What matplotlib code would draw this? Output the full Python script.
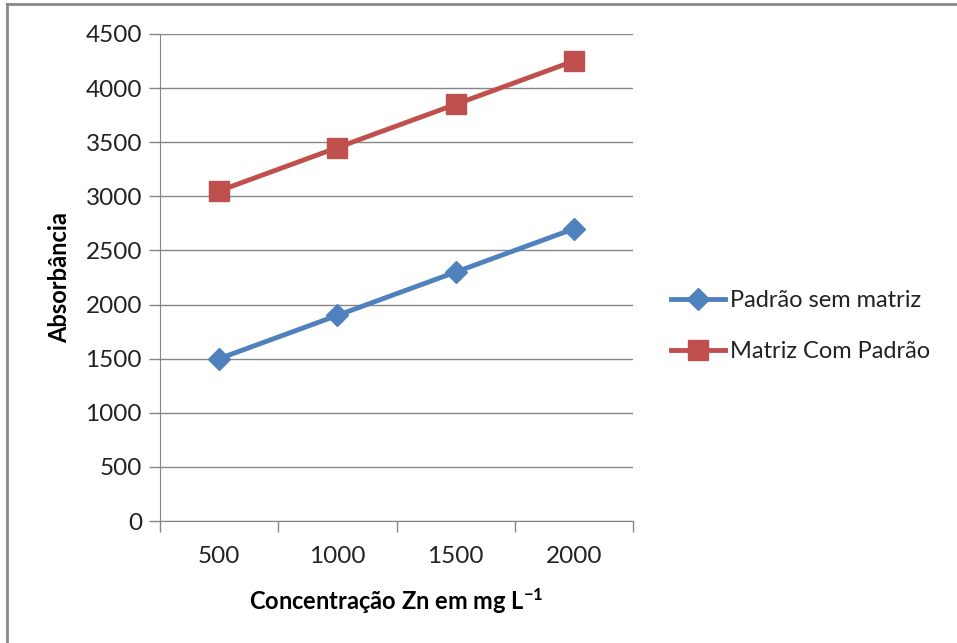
import numpy as np
import matplotlib.pyplot as plt
from matplotlib.lines import Line2D

plt.rcParams['font.family'] = ['Lato', 'DejaVu Sans']
plt.rcParams['mathtext.default'] = 'regular'

categorias = ['500', '1000', '1500', '2000']
padrao_sem_matriz = [1500, 1900, 2300, 2700]
matriz_com_padrao = [3050, 3450, 3850, 4250]
y_ticks = [0, 500, 1000, 1500, 2000, 2500, 3000, 3500, 4000, 4500]

azul = '#4F81BD'
vermelho = '#C0504D'
cinza = '#868686'

fig = plt.figure(figsize=(9.57, 6.43), dpi=100)
ax = fig.add_axes([160 / 957, 1 - 521 / 643, 473 / 957, 487 / 643])

x = np.arange(len(categorias)) + 0.5
ax.plot(x, padrao_sem_matriz, color=azul, lw=3.5, marker='D', ms=11,
        label='Padrão sem matriz', zorder=3)
ax.plot(x, matriz_com_padrao, color=vermelho, lw=3.5, marker='s', ms=15,
        label='Matriz Com Padrão', zorder=3)

ax.set_xlim(0, len(categorias))
ax.set_ylim(0, 4500)
ax.set_yticks(y_ticks)
ax.set_xticks(np.arange(len(categorias) + 1))
ax.set_xticklabels([])
ax.set_xticks(x, minor=True)
ax.set_xticklabels(categorias, minor=True)
ax.tick_params(axis='x', which='major', length=8, width=1, color=cinza)
ax.tick_params(axis='x', which='minor', length=0, pad=18, labelsize=17.5,
               labelcolor='#222222')
ax.tick_params(axis='y', length=8, width=1, color=cinza, labelsize=17.5, pad=5,
               labelcolor='#222222')
ax.grid(axis='y', color=cinza, lw=1)
ax.set_axisbelow(True)

for side in ['top', 'right']:
    ax.spines[side].set_visible(False)
for side in ['left', 'bottom']:
    ax.spines[side].set_color(cinza)

ax.set_ylabel('Absorbância', fontsize=17, fontweight='bold', labelpad=10)
ax.set_xlabel('Concentração Zn em mg L$^{-1}$', fontsize=17, fontweight='bold',
              labelpad=14)

ax.legend(loc='center left', bbox_to_anchor=(1.035, 0.40), frameon=False,
          fontsize=17, handlelength=2.3, labelspacing=1.25, handletextpad=0.2,
          labelcolor='#222222')

# moldura do gráfico (esquerda e topo)
fig.add_artist(Line2D([7 / 957, 7 / 957], [0, 1 - 4 / 643], color='#898989', lw=2,
                      transform=fig.transFigure))
fig.add_artist(Line2D([7 / 957, 1], [1 - 4 / 643, 1 - 4 / 643], color='#898989', lw=2,
                      transform=fig.transFigure))

fig.savefig('out.png', dpi=100)
